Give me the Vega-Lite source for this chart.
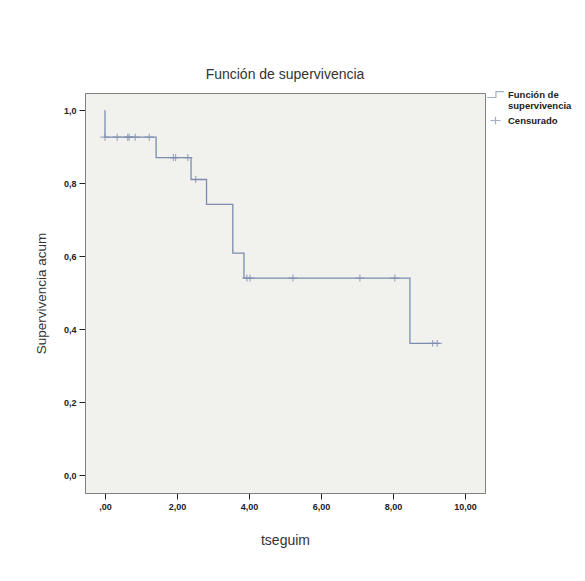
{
  "$schema": "https://vega.github.io/schema/vega-lite/v6.json",
  "width": 400,
  "height": 400,
  "autosize": "none",
  "padding": {"left": 85, "top": 93, "right": 100, "bottom": 88},
  "background": "white",
  "config": {
    "font": "Liberation Sans",
    "view": {"fill": "#f1f1ed", "stroke": "#808080", "strokeWidth": 1}
  },
  "title": {"text": "Función de supervivencia", "fontSize": 14, "fontWeight": "normal", "color": "#333333", "offset": 3, "font": "Liberation Sans"},
  "datasets": {
    "curva": [
      {"t": 0, "s": 1.0},
      {"t": 0, "s": 0.926},
      {"t": 1.42, "s": 0.87},
      {"t": 2.39, "s": 0.81},
      {"t": 2.82, "s": 0.742},
      {"t": 3.55, "s": 0.608},
      {"t": 3.86, "s": 0.54},
      {"t": 8.47, "s": 0.361},
      {"t": 9.3, "s": 0.361}
    ],
    "censura": [
      {"t": 0.0, "s": 0.926, "serie": "Censurado"},
      {"t": 0.34, "s": 0.926, "serie": "Censurado"},
      {"t": 0.63, "s": 0.926, "serie": "Censurado"},
      {"t": 0.67, "s": 0.926, "serie": "Censurado"},
      {"t": 0.84, "s": 0.926, "serie": "Censurado"},
      {"t": 1.23, "s": 0.926, "serie": "Censurado"},
      {"t": 1.9, "s": 0.87, "serie": "Censurado"},
      {"t": 1.96, "s": 0.87, "serie": "Censurado"},
      {"t": 2.3, "s": 0.87, "serie": "Censurado"},
      {"t": 2.52, "s": 0.81, "serie": "Censurado"},
      {"t": 3.94, "s": 0.54, "serie": "Censurado"},
      {"t": 4.03, "s": 0.54, "serie": "Censurado"},
      {"t": 5.22, "s": 0.54, "serie": "Censurado"},
      {"t": 7.08, "s": 0.54, "serie": "Censurado"},
      {"t": 8.05, "s": 0.54, "serie": "Censurado"},
      {"t": 9.1, "s": 0.361, "serie": "Censurado"},
      {"t": 9.23, "s": 0.361, "serie": "Censurado"}
    ]
  },
  "layer": [
    {
      "data": {"name": "curva"},
      "mark": {"type": "line", "interpolate": "step-after", "color": "#7d8db0", "strokeWidth": 1.3},
      "encoding": {
        "x": {
          "field": "t", "type": "quantitative",
          "scale": {"domain": [-0.556, 10.556], "nice": false, "zero": false},
          "axis": {
            "title": "tseguim", "titleFontSize": 14, "titleFontWeight": "normal", "titleColor": "#333333", "titlePadding": 22,
            "values": [0, 2, 4, 6, 8, 10],
            "labelExpr": "datum.value == 0 ? ',00' : replace(format(datum.value, '.2f'), '.', ',')",
            "labelFontSize": 9, "labelFontWeight": "bold", "labelColor": "#222222",
            "grid": false, "tickSize": 6, "tickColor": "#222222", "domainColor": "#808080", "labelPadding": 3
          }
        },
        "y": {
          "field": "s", "type": "quantitative",
          "scale": {"domain": [-0.049, 1.047], "nice": false, "zero": false},
          "axis": {
            "title": "Supervivencia acum", "titleFontSize": 13.5, "titleFontWeight": "normal", "titleColor": "#333333", "titlePadding": 15,
            "values": [0, 0.2, 0.4, 0.6, 0.8, 1.0],
            "labelExpr": "replace(format(datum.value, '.1f'), '.', ',')",
            "labelFontSize": 9, "labelFontWeight": "bold", "labelColor": "#222222",
            "grid": false, "tickSize": 6, "tickColor": "#222222", "domainColor": "#808080", "labelPadding": 3
          }
        }
      }
    },
    {
      "data": {"name": "censura"},
      "mark": {"type": "point", "filled": false, "strokeWidth": 1.2, "size": 240},
      "encoding": {
        "x": {"field": "t", "type": "quantitative"},
        "y": {"field": "s", "type": "quantitative"},
        "shape": {
          "field": "serie", "type": "nominal",
          "scale": {
            "domain": ["Función de supervivencia", "Censurado"],
            "range": ["M-1,0.35L0.05,0.35L0.05,-0.35L1,-0.35", "M-0.6,0L0.6,0M0,-0.45L0,0.45"]
          },
          "legend": {
            "title": null, "orient": "none", "legendX": 401, "legendY": -8,
            "labelExpr": "datum.label == 'Función de supervivencia' ? ['Función de', 'supervivencia'] : datum.label",
            "labelFontSize": 9.5, "labelFontWeight": "bold", "labelColor": "#222222",
            "symbolSize": 289, "symbolStrokeColor": "#7d8db0", "symbolStrokeWidth": 1.2, "symbolFillColor": "transparent",
            "rowPadding": 0, "labelOffset": 3, "padding": 0
          }
        },
        "color": {"value": "#7d8db0"}
      }
    }
  ]
}
